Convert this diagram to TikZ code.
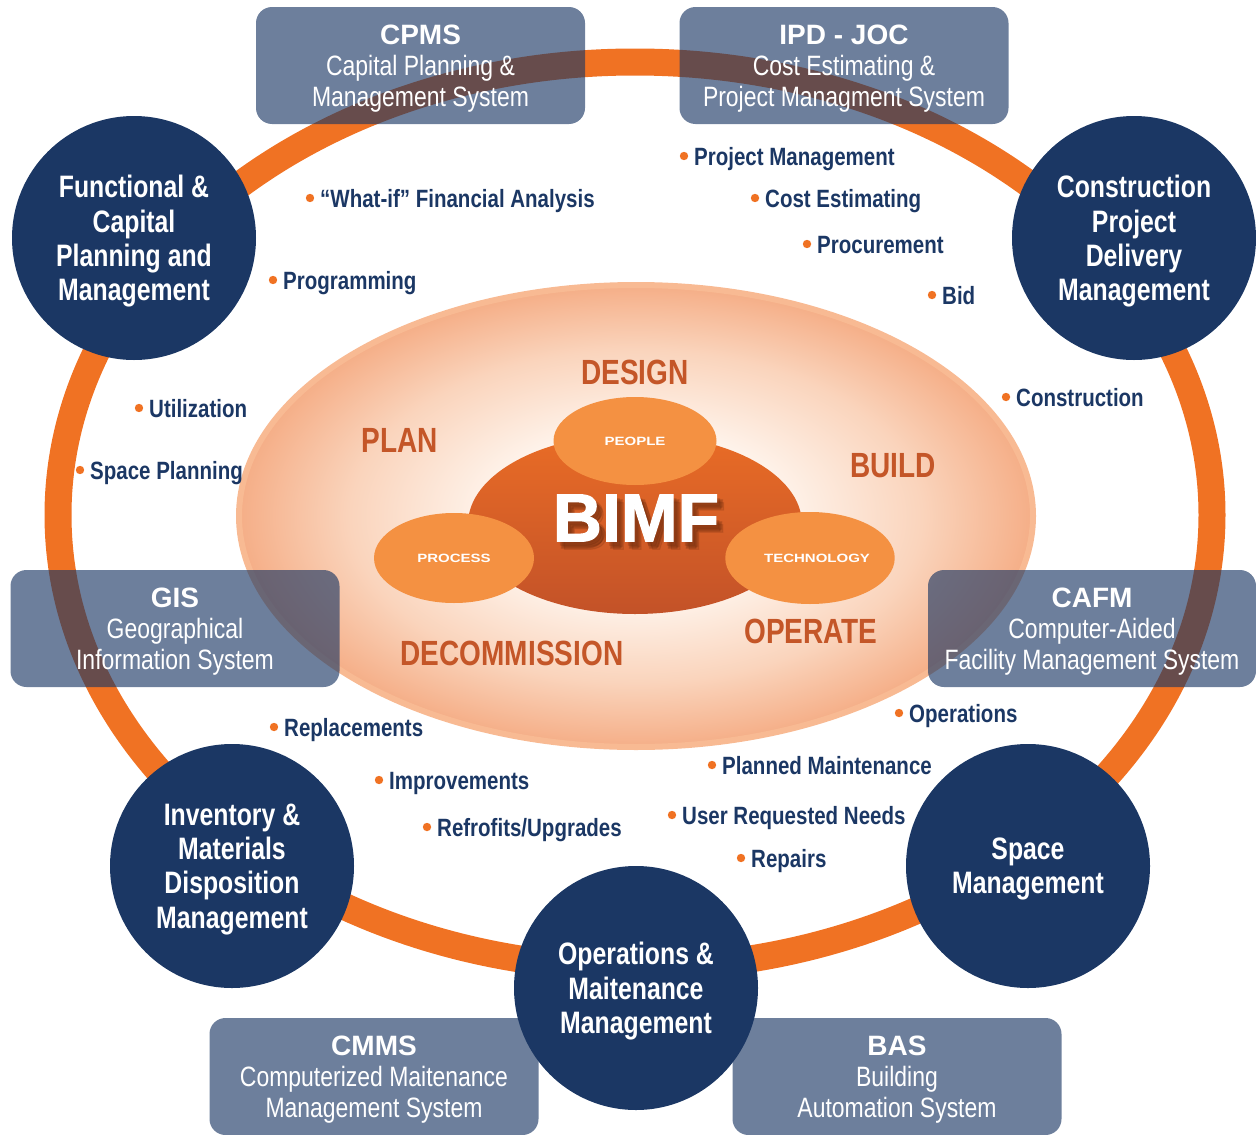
\documentclass[tikz,border=0pt]{standalone}
\usepackage{fontspec}
\usetikzlibrary{shapes.geometric}
\setmainfont{Liberation Sans}
\newfontfamily\condfont[FakeStretch=0.8]{Liberation Sans}
\newfontfamily\taskfont[FakeStretch=0.82]{Liberation Sans}
\newfontfamily\narrowfont[FakeStretch=0.82]{Liberation Sans}
\newfontfamily\widefont[FakeStretch=1.25]{Liberation Sans}
\newfontfamily\heavyfont[FakeBold=1.6]{Liberation Sans}

\definecolor{ringorange}{RGB}{240,114,35}
\definecolor{navy}{RGB}{27,55,100}
\definecolor{stagetext}{RGB}{196,86,40}
\definecolor{petalfill}{RGB}{244,145,66}
\definecolor{coretop}{RGB}{233,108,38}
\definecolor{corebottom}{RGB}{195,82,40}
\definecolor{glowin}{RGB}{255,248,242}
\definecolor{glowmid}{RGB}{250,212,188}
\definecolor{glowout}{RGB}{245,174,135}
\definecolor{glowrim}{RGB}{248,186,147}
\definecolor{shadowbrown}{RGB}{90,35,10}

\pgfdeclareradialshading{bimfglow}{\pgfpoint{0bp}{0bp}}{color(0bp)=(glowin); color(8bp)=(glowin); color(18bp)=(glowmid); color(25bp)=(glowout); color(50bp)=(glowout)}

\tikzset{
  hub/.style={circle, fill=navy, minimum size=244pt, inner sep=0pt, text=white, align=center,
    text depth=0pt, font=\condfont\bfseries\fontsize{31}{34.3}\selectfont},
  sysbox/.style={rectangle, rounded corners=16pt, fill=navy, fill opacity=.64, text opacity=1,
    text=white, minimum width=329pt, minimum height=117pt, inner sep=0pt, align=center,
    text depth=0pt, font=\narrowfont\fontsize{28}{31}\selectfont},
  stage/.style={text=stagetext, inner sep=0pt, font=\condfont\bfseries\fontsize{35}{35}\selectfont},
  petal/.style={ellipse, fill=petalfill, inner sep=0pt, text=white,
    font=\widefont\bfseries\fontsize{12}{12}\selectfont},
  task/.style={anchor=base west, text=navy, inner sep=0pt,
    font=\taskfont\bfseries\fontsize{25}{25}\selectfont},
  bimftext/.style={font=\heavyfont\bfseries\fontsize{68}{68}\selectfont},
}
\newcommand{\boxtitle}[1]{{\normalfont\bfseries #1}}

\begin{document}
\begin{tikzpicture}[x=1pt, y=-1pt]

    \useasboundingbox (0,0) rectangle (1256,1135);

    % Draw outer orange ring
    \draw[ringorange, line width=27pt] (635,515) ellipse (577 and 453);

    % Draw lifecycle glow
    \shade[shading=bimfglow] (636,516) ellipse (397 and 231);
    \draw[glowrim, line width=6pt] (636,516) ellipse (397 and 231);

    % Draw BIMF core and its three parts
    \shade[top color=coretop, bottom color=corebottom] (635,524) ellipse (167 and 90);
    \node[petal, minimum width=163pt, minimum height=88pt] (people) at (635,441) {PEOPLE};
    \node[petal, minimum width=160pt, minimum height=90pt] (process) at (454,558) {PROCESS};
    \node[petal, minimum width=161pt, minimum height=92pt] (technology) at (810,558) {\hspace*{14pt}TECHNOLOGY};

    % soft shadow under BIMF
    \foreach \dx/\dy in {3/4, 5/6, 7/8, 4/7, 6/5}
      \node[bimftext, text=shadowbrown, opacity=.14] at (636+\dx,518+\dy) {BIMF};
    \node[bimftext, text=white] (bimf) at (636,518) {BIMF};

    % Lifecycle stages
    \node[stage] (design) at (635,372) {DESIGN};
    \node[stage] (plan) at (400,440) {PLAN};
    \node[stage] (build) at (893,466) {BUILD};
    \node[stage] (operate) at (811,631) {OPERATE};
    \node[stage] (decom) at (512,653) {DECOMMISSION};

    % Systems (see-through boxes)
    \node[sysbox] (cpms) at (420.5,65.5) {\boxtitle{CPMS}\\Capital Planning \&\\Management System};
    \node[sysbox] (ipdjoc) at (844,65.5) {\boxtitle{IPD - JOC}\\Cost Estimating \&\\Project Managment System};
    \node[sysbox] (gis) at (175,628.5) {\boxtitle{GIS}\\Geographical\\Information System};
    \node[sysbox, minimum width=328pt] (cafm) at (1092,628.5) {\boxtitle{CAFM}\\Computer-Aided\\Facility Management System};
    \node[sysbox] (cmms) at (374,1076.5) {\boxtitle{CMMS}\\Computerized Maitenance\\Management System};
    \node[sysbox] (bas) at (897,1076.5) {\boxtitle{BAS}\\Building\\Automation System};

    % Management areas
    \node[hub] (fcpm) at (134,238) {Functional \&\\Capital\\Planning and\\Management};
    \node[hub] (cpdm) at (1134,238) {Construction\\Project\\Delivery\\Management};
    \node[hub] (imdm) at (232,866) {Inventory \&\\Materials\\Disposition\\Management};
    \node[hub] (spm) at (1028,866) {Space\\Management};
    \node[hub] (omm) at (636,988) {Operations \&\\Maitenance\\Management};

    % Bullet points
    \foreach \x/\y/\name/\txt in {
        310/198/whatif/{“What-if” Financial Analysis},
        273/280/programming/Programming,
        684/156/projmgmt/Project Management,
        755/198/costest/Cost Estimating,
        807/244/procure/Procurement,
        932/295/bid/Bid,
        1006/397/constr/Construction,
        139/408/util/Utilization,
        80/470/spaceplan/Space Planning,
        899/713/ops/Operations,
        712/765/plannedm/Planned Maintenance,
        672/815/userreq/User Requested Needs,
        741/858/repairs/Repairs,
        274/727/replace/Replacements,
        379/780/improve/Improvements,
        427/827/refrofit/{Refrofits/Upgrades}} {
      \fill[ringorange] (\x,\y) circle (4.2);
      \node[task] (\name) at (\x+10,\y+9) {\txt};
    }

\end{tikzpicture}
\end{document}
